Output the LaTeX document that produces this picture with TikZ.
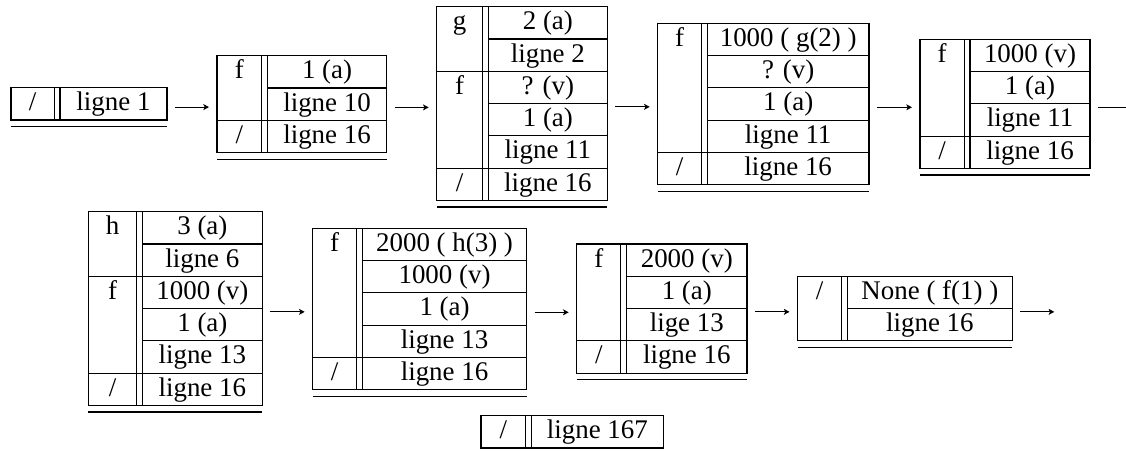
\documentclass[tikz,border=0pt]{standalone}
\usepackage{fontspec}
\setmainfont{Liberation Serif}
\usetikzlibrary{arrows.meta,fit}

\tikzset{
  rule/.style={line width=0.4pt},
  cell/.style={anchor=base, inner sep=0pt, font=\fontsize{10}{12}\selectfont},
  link/.style={line width=0.4pt,
    -{Stealth[length=2.1pt,width=2.2pt,inset=0.5pt]},
    shorten <=2.97pt, shorten >=2.97pt},
  hold/.style={inner sep=0pt, outer sep=0pt},
}

% geometry of a stack frame (picture units, y grows downwards)
\def\rowh{32.3}   % height of one row
\def\dgap{5.7}    % gap of the double vertical rule
\def\xgap{6.5}    % gap of the double closing rule
\def\baseoff{23}  % baseline of a row below its top

% #1 name, #2 left, #3 top, #4 first vertical rule, #5 right, #6 rows
\newcommand\memtable[6]{%
  \def\mtN{#1}\def\mtL{#2}\def\mtT{#3}\def\mtA{#4}\def\mtR{#5}%
  \pgfmathsetmacro\mtB{#3+#6*\rowh}%
  \draw[rule] (#2,#3) rectangle (#5,\mtB);
  \draw[rule] (#4,#3) -- (#4,\mtB) (#4+\dgap,#3) -- (#4+\dgap,\mtB);
}
\newcommand\splitrule[1]{%
  \draw[rule] (\mtA+\dgap,\mtT+#1*\rowh) -- (\mtR,\mtT+#1*\rowh);}
\newcommand\fullrule[1]{%
  \draw[rule] (\mtL,\mtT+#1*\rowh) -- (\mtR,\mtT+#1*\rowh);}
\newcommand\lefttext[2]{%
  \node[cell] (\mtN-l#1) at ({(\mtL+\mtA)/2},{\mtT+(#1-1)*\rowh+\baseoff}) {#2};}
\newcommand\righttext[2]{%
  \node[cell] (\mtN-r#1) at ({(\mtA+\dgap+\mtR)/2},{\mtT+(#1-1)*\rowh+\baseoff}) {#2};}
% closing double rule, and a node holding the whole frame
\newcommand\closetable{%
  \pgfmathsetmacro\mtE{\mtB+\xgap}%
  \draw[rule] (\mtL,\mtE) -- (\mtR,\mtE);
  \node[hold, fit={(\mtL,\mtT) (\mtR,\mtE)}] (\mtN) {};}
\newcommand\holdtable{%
  \node[hold, fit={(\mtL,\mtT) (\mtR,\mtB)}] (\mtN) {};}

\begin{document}
\begin{tikzpicture}[x=0.37148pt, y=-0.37148pt]
  \useasboundingbox (0,0) rectangle (1126,452);

  % ---------- first line ----------
  \memtable{t1}{11}{87.7}{54.3}{167}{1}
  \lefttext{1}{/}
  \righttext{1}{ligne 1}
  \closetable

  \memtable{t2}{217}{55.7}{261.7}{386.7}{3}
  \splitrule{1}\fullrule{2}
  \lefttext{1}{f}\lefttext{3}{/}
  \righttext{1}{1 (a)}
  \righttext{2}{ligne 10}
  \righttext{3}{ligne 16}
  \closetable

  \memtable{t3}{436.7}{6.7}{482.7}{607.3}{6}
  \splitrule{1}\fullrule{2}\splitrule{3}\splitrule{4}\fullrule{5}
  \lefttext{1}{g}\lefttext{3}{f}\lefttext{6}{/}
  \righttext{1}{2 (a)}
  \righttext{2}{ligne 2}
  \righttext{3}{? (v)}
  \righttext{4}{1 (a)}
  \righttext{5}{ligne 11}
  \righttext{6}{ligne 16}
  \closetable

  \memtable{t4}{657.7}{23.3}{701.7}{869}{5}
  \splitrule{1}\splitrule{2}\splitrule{3}\fullrule{4}
  \lefttext{1}{f}\lefttext{5}{/}
  \righttext{1}{1000 ( g(2) )}
  \righttext{2}{? (v)}
  \righttext{3}{1 (a)}
  \righttext{4}{ligne 11}
  \righttext{5}{ligne 16}
  \closetable

  \memtable{t5}{920}{39.3}{964.3}{1090}{4}
  \splitrule{1}\splitrule{2}\fullrule{3}
  \lefttext{1}{f}\lefttext{4}{/}
  \righttext{1}{1000 (v)}
  \righttext{2}{1 (a)}
  \righttext{3}{ligne 11}
  \righttext{4}{ligne 16}
  \closetable

  % ---------- second line ----------
  \memtable{t6}{88.3}{211.7}{136.7}{262.3}{6}
  \splitrule{1}\fullrule{2}\splitrule{3}\splitrule{4}\fullrule{5}
  \lefttext{1}{h}\lefttext{3}{f}\lefttext{6}{/}
  \righttext{1}{3 (a)}
  \righttext{2}{ligne 6}
  \righttext{3}{1000 (v)}
  \righttext{4}{1 (a)}
  \righttext{5}{ligne 13}
  \righttext{6}{ligne 16}
  \closetable

  \memtable{t7}{312.7}{228.3}{356.7}{526.7}{5}
  \splitrule{1}\splitrule{2}\splitrule{3}\fullrule{4}
  \lefttext{1}{f}\lefttext{5}{/}
  \righttext{1}{2000 ( h(3) )}
  \righttext{2}{1000 (v)}
  \righttext{3}{1 (a)}
  \righttext{4}{ligne 13}
  \righttext{5}{ligne 16}
  \closetable

  \memtable{t8}{576.7}{244}{620.9}{747}{4}
  \splitrule{1}\splitrule{2}\fullrule{3}
  \lefttext{1}{f}\lefttext{4}{/}
  \righttext{1}{2000 (v)}
  \righttext{2}{1 (a)}
  \righttext{3}{lige 13}
  \righttext{4}{ligne 16}
  \closetable

  \memtable{t9}{797.5}{276.3}{841.7}{1012.3}{2}
  \splitrule{1}
  \lefttext{1}{/}
  \righttext{1}{None ( f(1) )}
  \righttext{2}{ligne 16}
  \closetable

  % ---------- last frame ----------
  \memtable{t10}{481}{415.7}{525.7}{663.3}{1}
  \lefttext{1}{/}
  \righttext{1}{ligne 167}
  \holdtable

  % ---------- transitions ----------
  \coordinate (rowout) at (1141,107.3);
  \coordinate (lastout) at (1062.3,312);
  \draw[link] (t1.east) -- (t1.east -| t2.west);
  \draw[link] (t2.east) -- (t2.east -| t3.west);
  \draw[link] (t3.east) -- (t3.east -| t4.west);
  \draw[link] (t4.east) -- (t4.east -| t5.west);
  \draw[link] (t5.east) -- (t5.east -| rowout);
  \draw[link] (t6.east) -- (t6.east -| t7.west);
  \draw[link] (t7.east) -- (t7.east -| t8.west);
  \draw[link] (t8.east) -- (t8.east -| t9.west);
  \draw[link] (t9.east) -- (t9.east -| lastout);
\end{tikzpicture}
\end{document}
